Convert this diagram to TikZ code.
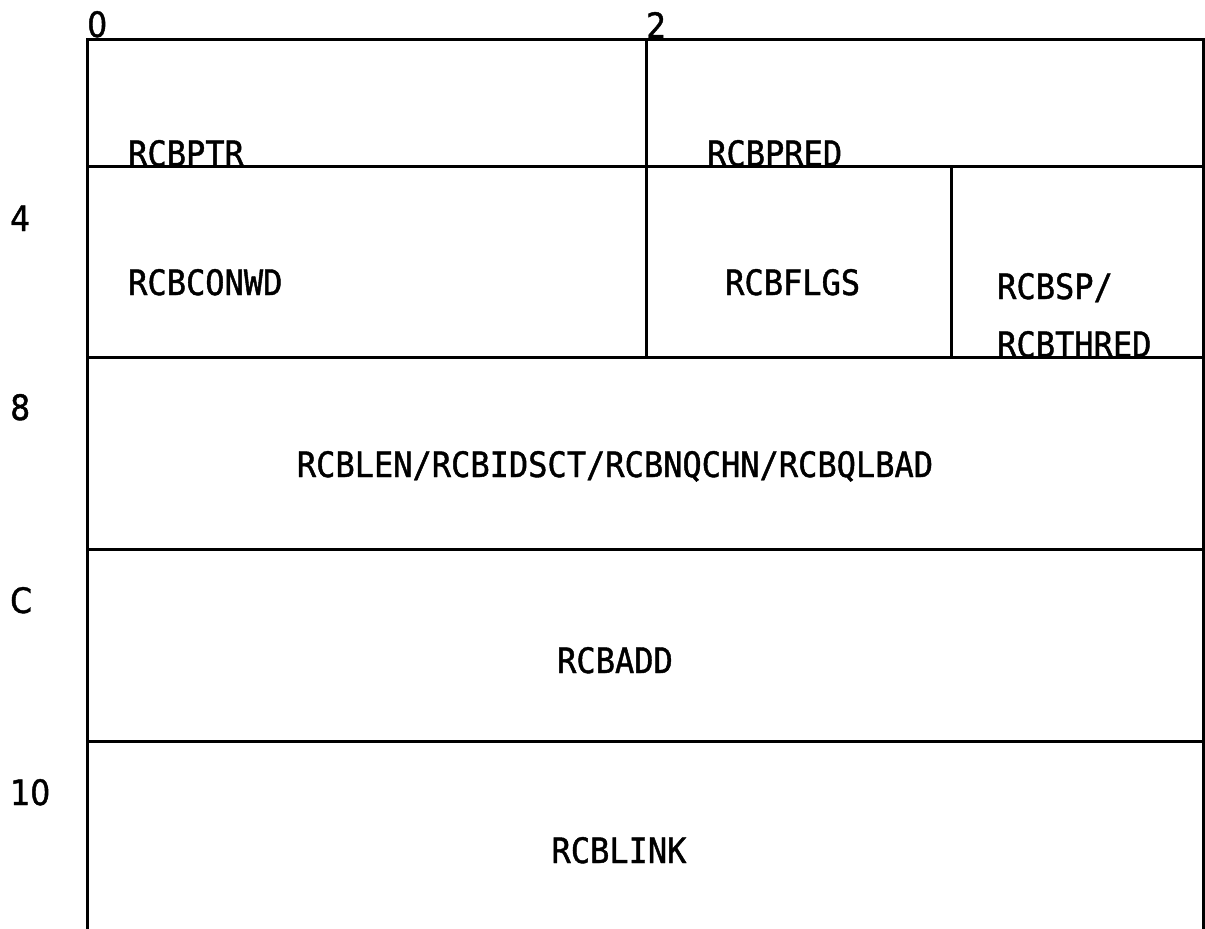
\documentclass[tikz,border=0pt]{standalone}
\usepackage{fontspec}
\newfontfamily\fieldfont{DejaVu Sans Mono}[FakeStretch=0.915,FakeBold=1.2]
\newfontfamily\offsetfont{DejaVu Sans}[FakeStretch=0.9,FakeBold=1.2]
\tikzset{
  rule/.style={line width=3pt, line cap=rect},
  field/.style={font=\fieldfont\fontsize{35}{40}\selectfont, inner sep=0pt, anchor=base west},
  fieldc/.style={field, anchor=base},
  offset/.style={font=\offsetfont\fontsize{35}{40}\selectfont, inner sep=0pt, anchor=base west}
}
\begin{document}
\begin{tikzpicture}[x=1pt,y=-1pt]
  \useasboundingbox (0,0) rectangle (1205,929);
  % frame corners
  \coordinate (tl) at (87,39);
  \coordinate (tr) at (1203,39);
  \coordinate (bl) at (87,929);
  \coordinate (br) at (1203,929);
  % outer sides (open at the bottom)
  \draw[rule] (tl) -- (tr);
  \draw[rule] (tl) -- (bl);
  \draw[rule] (tr) -- (br);
  % row separators
  \foreach \y in {166,357,549,741} \draw[rule] (87,\y) -- (1203,\y);
  % column separators
  \draw[rule] (646,39) -- (646,357);
  \draw[rule] (951,166) -- (951,357);
  % byte offsets across the top
  \node[offset] (o0) at (87,37) {0};
  \node[offset] (o2) at (646,38) {2};
  % word offsets down the side
  \node[offset] (o4) at (10,231) {4};
  \node[offset] (o8) at (10,420) {8};
  \node[offset] (oC) at (10,613) {C};
  \node[offset] (o10) at (10,805) {10};
  % field names
  \node[field] (ptr) at (128,166) {RCBPTR};
  \node[field] (pred) at (707,166) {RCBPRED};
  \node[field] (conwd) at (128,295) {RCBCONWD};
  \node[field] (flgs) at (725,295) {RCBFLGS};
  \node[field] (sp) at (997,299) {RCBSP/};
  \node[field] (thred) at (997,357) {RCBTHRED};
  \node[fieldc] (len) at (615,477) {RCBLEN/RCBIDSCT/RCBNQCHN/RCBQLBAD};
  \node[fieldc] (add) at (615,673) {RCBADD};
  \node[fieldc] (link) at (619,863) {RCBLINK};
\end{tikzpicture}
\end{document}
